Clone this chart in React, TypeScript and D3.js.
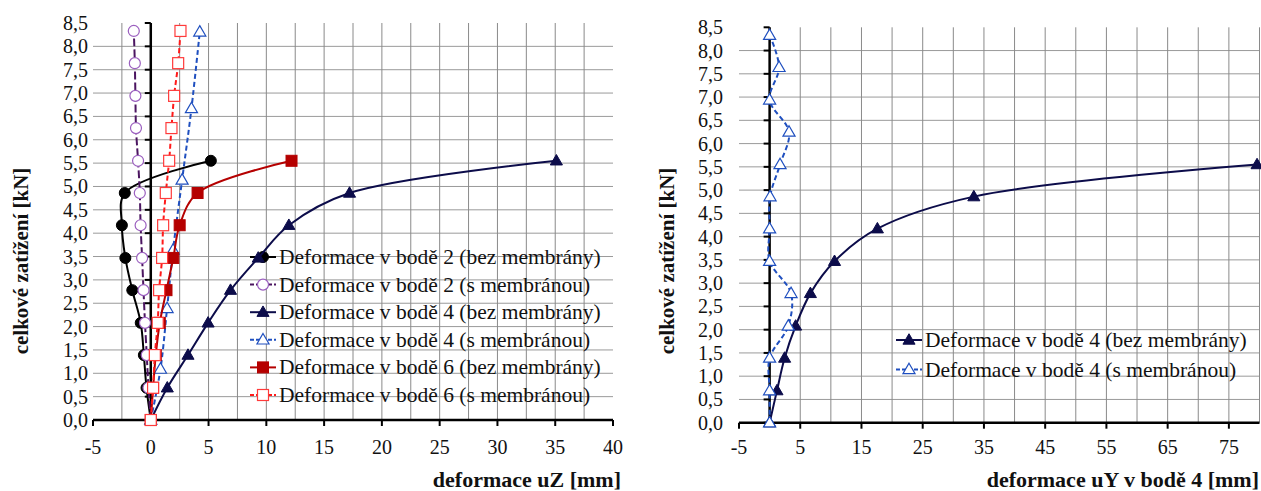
import React from "react";
import * as d3 from "d3";

// ---- data ----
const loadsBez = [0, 0.69, 1.39, 2.08, 2.78, 3.47, 4.17, 4.86, 5.55];
const loadsS = [0, 0.69, 1.39, 2.08, 2.78, 3.47, 4.17, 4.86, 5.55, 6.25, 6.94, 7.64, 8.33];
const loadsS4 = [0, 1.09, 2.39, 3.64, 5.14, 6.67, 8.31];

const uz2Bez = [0, -0.37, -0.6, -0.87, -1.6, -2.2, -2.5, -2.25, 5.2];
const uz2S = [0, -0.2, -0.35, -0.5, -0.63, -0.75, -0.88, -0.95, -1.1, -1.28, -1.33, -1.38, -1.47];
const uz4Bez = [0, 1.43, 3.22, 4.96, 6.9, 9.3, 11.95, 17.2, 35.1];
const uz4S = [0, 0.84, 1.41, 1.93, 2.71, 3.52, 4.24];
const uz6Bez = [0, 0.2, 0.43, 0.78, 1.36, 1.95, 2.5, 4.05, 12.18];
const uz6S = [0, 0.2, 0.35, 0.6, 0.72, 0.98, 1.07, 1.3, 1.59, 1.79, 2.02, 2.37, 2.57];

const uyBez = [0, 1.2, 2.45, 4.25, 6.66, 10.6, 17.6, 33.35, 79.6];
const uyS = [0, 0, 0, 3.05, 3.5, 0, 0, 0.07, 1.7, 3.17, 0, 1.54, 0];

const yTickValues = d3.range(0, 8.501, 0.5);
const xTicksLeft = [-5, 0, 5, 10, 15, 20, 25, 30, 35, 40];
const xTicksRight = [-5, 5, 15, 25, 35, 45, 55, 65, 75];
const xGridLeft = [-2.5, 2.5, 5, 7.5, 10, 12.5, 15, 17.5, 20, 22.5, 25, 27.5, 30, 32.5, 35, 37.5];
const xGridRight = d3.range(5, 80.01, 5);
const yGrid = d3.range(0.5, 8.01, 0.5);

const namesLeft = [
  "Deformace v bodě 2 (bez membrány)",
  "Deformace v bodě 2 (s membránou)",
  "Deformace v bodě 4 (bez membrány)",
  "Deformace v bodě 4 (s membránou)",
  "Deformace v bodě 6 (bez membrány)",
  "Deformace v bodě 6 (s membránou)",
];
const namesRight = ["Deformace v bodě 4 (bez membrány)", "Deformace v bodě 4 (s membránou)"];

const FONT = "'Liberation Serif', 'Times New Roman', serif";

type Style = {
  line: string;
  mark: string;
  dash?: string;
  shape: "circle" | "triangle" | "square";
  open: boolean;
};

const STY: Record<string, Style> = {
  b2: { line: "#000000", mark: "#000000", shape: "circle", open: false },
  s2: { line: "#4b1560", mark: "#9b5fbf", dash: "8,3", shape: "circle", open: true },
  b4: { line: "#0c0c4a", mark: "#0c0c4a", shape: "triangle", open: false },
  s4: { line: "#1f4fbf", mark: "#1f4fbf", dash: "5,3", shape: "triangle", open: true },
  b6: { line: "#b50000", mark: "#b50000", shape: "square", open: false },
  s6: { line: "#ff1a1a", mark: "#ff3a3a", dash: "5,3", shape: "square", open: true },
};

const fmt = (v: number) => d3.format(".1f")(v).replace(".", ",");

function Marker({ x, y, st, s = 11 }: { x: number; y: number; st: Style; s?: number }) {
  const fill = st.open ? "#ffffff" : st.mark;
  const sw = st.open ? 1.2 : 1;
  if (st.shape === "circle")
    return <circle cx={x} cy={y} r={s / 2} fill={fill} stroke={st.mark} strokeWidth={sw} />;
  if (st.shape === "square")
    return <rect x={x - s / 2} y={y - s / 2} width={s} height={s} fill={fill} stroke={st.mark} strokeWidth={sw} />;
  const h = s * 0.95;
  return (
    <polygon
      points={`${x},${y - h * 0.6} ${x + s * 0.55},${y + h * 0.4} ${x - s * 0.55},${y + h * 0.4}`}
      fill={fill}
      stroke={st.mark}
      strokeWidth={sw}
    />
  );
}

function Series({ xs, ys, st, sx, sy }: { xs: number[]; ys: number[]; st: Style; sx: any; sy: any }) {
  const pts: [number, number][] = xs.map((v, i) => [sx(v), sy(ys[i])]);
  const gen = d3.line().curve(d3.curveCatmullRom.alpha(0.5));
  return (
    <g>
      <path d={gen(pts) || ""} fill="none" stroke={st.line} strokeWidth={2} strokeDasharray={st.dash} />
      {pts.map((p, i) => (
        <Marker key={i} x={p[0]} y={p[1]} st={st} />
      ))}
    </g>
  );
}

function Chart({ sx, sy, xTicks, xGrid, xTitle, titleRight, yTitleX, yLabelX, children }: any) {
  const [x0, x1] = sx.range();
  const [y0, y1] = sy.range();
  const ax = sx(0);
  const yCenter = 261;
  return (
    <g>
      {yGrid.map((v) => (
        <line key={"h" + v} x1={x0} x2={x1} y1={sy(v)} y2={sy(v)} stroke="#9a9a9a" strokeWidth={1} />
      ))}
      {xGrid.map((v: number) => (
        <line key={"v" + v} x1={sx(v)} x2={sx(v)} y1={y0} y2={y1} stroke="#8a8a8a" strokeWidth={1} />
      ))}
      <line x1={x0} x2={x1} y1={y0} y2={y0} stroke="#000" strokeWidth={2.5} />
      <line x1={ax} x2={ax} y1={y0} y2={y1} stroke="#000" strokeWidth={2.5} />
      {yTickValues.map((v) => (
        <line key={"yt" + v} x1={ax - 6} x2={ax} y1={sy(v)} y2={sy(v)} stroke="#000" strokeWidth={2} />
      ))}
      {xTicks.map((v: number) => (
        <line key={"xt" + v} x1={sx(v)} x2={sx(v)} y1={y0} y2={y0 + 6} stroke="#000" strokeWidth={2} />
      ))}
      {yTickValues.map((v) => (
        <text
          key={"yl" + v}
          x={yLabelX}
          y={sy(v)}
          textAnchor="end"
          dominantBaseline="central"
          fontFamily={FONT}
          fontSize={20}
          fill="#111"
        >
          {fmt(v)}
        </text>
      ))}
      {xTicks.map((v: number) => (
        <text
          key={"xl" + v}
          x={sx(v)}
          y={447}
          textAnchor="middle"
          dominantBaseline="central"
          fontFamily={FONT}
          fontSize={20}
          fill="#111"
        >
          {String(v)}
        </text>
      ))}
      <text x={titleRight} y={487} textAnchor="end" fontFamily={FONT} fontSize={22} fontWeight="bold" fill="#111">
        {xTitle}
      </text>
      <text
        transform={`translate(${yTitleX},${yCenter}) rotate(-90)`}
        textAnchor="middle"
        dominantBaseline="central"
        fontFamily={FONT}
        fontSize={21}
        fontWeight="bold"
        fill="#111"
      >
        celkové zatížení [kN]
      </text>
      {children}
    </g>
  );
}

function Legend({ items, x, y0, dy }: { items: { name: string; st: Style }[]; x: number; y0: number; dy: number }) {
  return (
    <g>
      {items.map((it, i) => {
        const y = y0 + i * dy;
        return (
          <g key={i}>
            <line
              x1={x}
              x2={x + 26}
              y1={y}
              y2={y}
              stroke={it.st.line}
              strokeWidth={2}
              strokeDasharray={it.st.dash ? "4,2" : undefined}
            />
            <Marker x={x + 13} y={y} st={it.st} s={11} />
            <text x={x + 29} y={y} dominantBaseline="central" fontFamily={FONT} fontSize={21.5} fill="#111">
              {it.name}
            </text>
          </g>
        );
      })}
    </g>
  );
}

export default function App() {
  const xL = d3.scaleLinear().domain([-5, 40]).range([93, 613]);
  const yL = d3.scaleLinear().domain([0, 8.5]).range([420, 23]);
  const xR = d3.scaleLinear().domain([-5, 80]).range([739, 1259.5]);
  const yR = d3.scaleLinear().domain([0, 8.5]).range([422.7, 27.3]);

  const leftSeries = [
    { xs: uz2Bez, ys: loadsBez, st: STY.b2 },
    { xs: uz2S, ys: loadsS, st: STY.s2 },
    { xs: uz4Bez, ys: loadsBez, st: STY.b4 },
    { xs: uz4S, ys: loadsS4, st: STY.s4 },
    { xs: uz6Bez, ys: loadsBez, st: STY.b6 },
    { xs: uz6S, ys: loadsS, st: STY.s6 },
  ];
  const rightSeries = [
    { xs: uyBez, ys: loadsBez, st: STY.b4 },
    { xs: uyS, ys: loadsS, st: STY.s4 },
  ];

  return (
    <svg width={1261} height={491} style={{ position: "absolute", left: 0, top: 0, background: "#fff" }}>
      <rect width={1261} height={491} fill="#fff" />
      <Chart
        sx={xL}
        sy={yL}
        xTicks={xTicksLeft}
        xGrid={xGridLeft}
        xTitle="deformace uZ [mm]"
        titleRight={621}
        yTitleX={21}
        yLabelX={88}
      >
        <Legend items={leftSeries.map((s, i) => ({ name: namesLeft[i], st: s.st }))} x={250} y0={257} dy={27.6} />
        {leftSeries.map((s, i) => (
          <Series key={i} xs={s.xs} ys={s.ys} st={s.st} sx={xL} sy={yL} />
        ))}
      </Chart>
      <Chart
        sx={xR}
        sy={yR}
        xTicks={xTicksRight}
        xGrid={xGridRight}
        xTitle="deformace uY v bodě 4 [mm]"
        titleRight={1259}
        yTitleX={667}
        yLabelX={723}
      >
        <Legend items={rightSeries.map((s, i) => ({ name: namesRight[i], st: s.st }))} x={896} y0={340} dy={29.5} />
        {rightSeries.map((s, i) => (
          <Series key={i} xs={s.xs} ys={s.ys} st={s.st} sx={xR} sy={yR} />
        ))}
      </Chart>
    </svg>
  );
}
